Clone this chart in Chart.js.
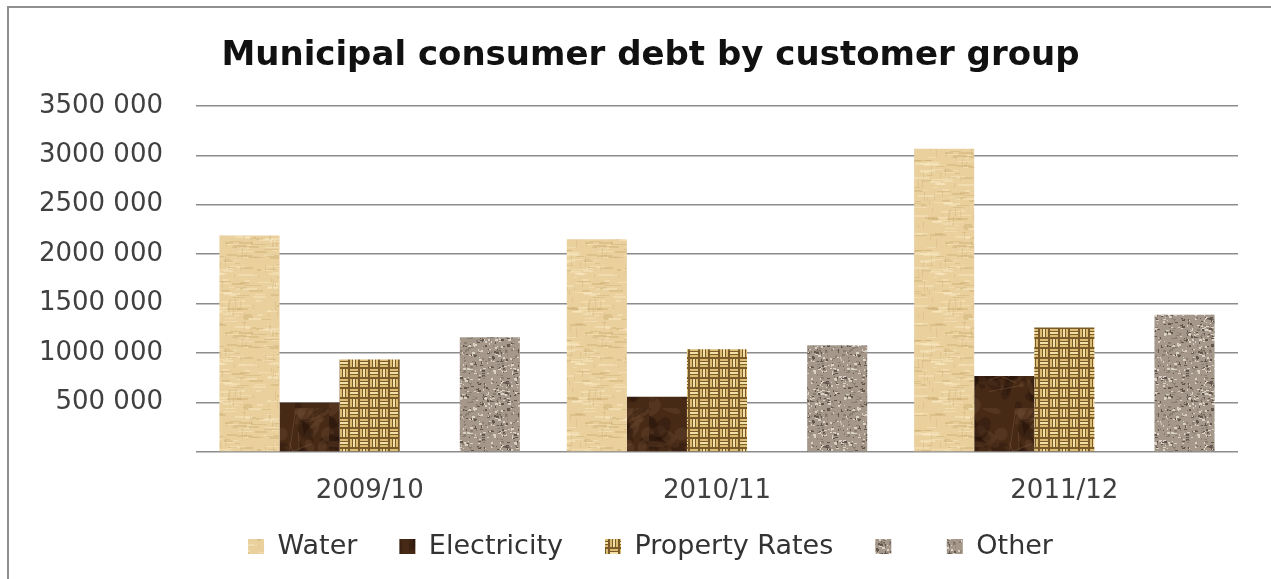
<!DOCTYPE html>
<html>
<head>
<meta charset="utf-8">
<script src="https://cdn.jsdelivr.net/npm/chart.js@4/dist/chart.umd.min.js"></script>
<style>
  html, body { margin: 0; padding: 0; background: #fff; }
  body { width: 1271px; height: 579px; overflow: hidden; position: relative; }
  #frame {
    position: absolute; left: 7px; top: 6px; width: 1264px; height: 573px;
    border-left: 2px solid #8f8f8f; border-top: 2px solid #8f8f8f;
  }
  #wrap { position: absolute; left: 0; top: 0; width: 1262px; height: 571px; }
</style>
</head>
<body>
<div id="frame"><div id="wrap"><canvas id="debtChart"></canvas></div></div>
<script>
// --- Data ---
const years = ["2009/10", "2010/11", "2011/12"];
const water = [2190000, 2150000, 3065000];
const electricity = [497000, 558000, 768000];
const propertyRates = [935000, 1038000, 1258000];
const unnamed = [null, null, null];          // blank legend entry in the original
const other = [1160000, 1080000, 1388000];
const yTicks = [0, 500000, 1000000, 1500000, 2000000, 2500000, 3000000, 3500000];

// --- Texture fills (Excel picture fills approximated) ---
function seeded(seed) {
    let s = seed >>> 0;
    return () => { s = (s * 1664525 + 1013904223) >>> 0; return s / 4294967296; };
}

function makePattern(w, h, paint) {
    const c = document.createElement('canvas');
    c.width = w; c.height = h;
    const g = c.getContext('2d');
    paint(g, w, h);
    return g.createPattern(c, 'repeat');
}

// papyrus
const papyrus = makePattern(90, 90, (g, w, h) => {
    const r = seeded(11);
    g.fillStyle = '#e9d09c';
    g.fillRect(0, 0, w, h);
    for (let i = 0; i < 160; i++) {
        g.fillStyle = r() < 0.5 ? 'rgba(196,158,96,0.3)' : 'rgba(250,236,200,0.45)';
        g.fillRect(Math.floor(r() * w), Math.floor(r() * h), 4 + Math.floor(r() * 14), 1 + Math.floor(r() * 2));
    }
    for (let i = 0; i < 50; i++) {
        g.fillStyle = 'rgba(190,150,95,0.2)';
        g.fillRect(Math.floor(r() * w), Math.floor(r() * h), 1, 3 + Math.floor(r() * 8));
    }
});

// dark marble
const marble = makePattern(80, 80, (g, w, h) => {
    const r = seeded(23);
    g.fillStyle = '#472a16';
    g.fillRect(0, 0, w, h);
    for (let i = 0; i < 60; i++) {
        const dark = r() < 0.5;
        g.fillStyle = dark ? 'rgba(35,18,8,0.35)' : 'rgba(115,80,52,0.3)';
        g.beginPath();
        g.ellipse(r() * w, r() * h, 3 + r() * 10, 2 + r() * 6, r() * Math.PI, 0, Math.PI * 2);
        g.fill();
    }
    g.strokeStyle = 'rgba(140,105,75,0.35)';
    g.lineWidth = 1;
    for (let i = 0; i < 6; i++) {
        g.beginPath();
        g.moveTo(r() * w, r() * h);
        g.lineTo(r() * w, r() * h);
        g.stroke();
    }
});

// basket weave
const weave = makePattern(20, 20, (g, w, h) => {
    g.fillStyle = '#7a5a28';
    g.fillRect(0, 0, w, h);
    const cells = [[0, 0, 'h'], [10, 0, 'v'], [0, 10, 'v'], [10, 10, 'h']];
    cells.forEach(([x, y, dir]) => {
        for (let k = 0; k < 3; k++) {
            g.fillStyle = k === 1 ? '#f3e0a6' : '#dcbd74';
            if (dir === 'h') g.fillRect(x + 1, y + k * 3 + 1, 8, 2);
            else g.fillRect(x + k * 3 + 1, y + 1, 2, 8);
        }
    });
});

// granite
const granite = makePattern(64, 64, (g, w, h) => {
    const r = seeded(37);
    g.fillStyle = '#a5988b';
    g.fillRect(0, 0, w, h);
    for (let i = 0; i < 420; i++) {
        const t = r();
        g.fillStyle = t < 0.35 ? '#62574e' : (t < 0.7 ? '#d9d0c6' : '#8a7e72');
        g.fillRect(Math.floor(r() * w), Math.floor(r() * h), 1 + Math.floor(r() * 3), 1 + Math.floor(r() * 2));
    }
});

const fmt = v => v === 0 ? '' : (v / 1000) + ' 000';

// labels may spill outside their (narrowed) axis boxes
const noLabelClip = s => { s._computeLabelArea = () => null; };

const ctx = document.getElementById('debtChart').getContext('2d');
new Chart(ctx, {
    type: 'bar',
    data: {
        labels: years,
        datasets: [
            { label: 'Water', data: water, backgroundColor: papyrus },
            { label: 'Electricity', data: electricity, backgroundColor: marble },
            { label: 'Property Rates', data: propertyRates, backgroundColor: weave },
            { label: '', data: unnamed, backgroundColor: granite },
            { label: 'Other', data: other, backgroundColor: granite }
        ]
    },
    options: {
        responsive: true,
        maintainAspectRatio: false,
        animation: false,
        layout: { padding: { left: 54, right: 33, top: 0, bottom: 9 } },
        datasets: { bar: { barPercentage: 1.0, categoryPercentage: 0.865 } },
        scales: {
            y: {
                min: 0,
                max: 3500000,
                afterBuildTicks: s => { s.ticks = yTicks.map(v => ({ value: v })); },
                afterFit: s => { s.width = 133; noLabelClip(s); },
                ticks: {
                    callback: v => fmt(v),
                    color: '#404040',
                    padding: 33,
                    font: { family: 'DejaVu Sans', size: 26 }
                },
                grid: { color: '#8c8c8c', lineWidth: 1.5, drawTicks: false },
                border: { display: false }
            },
            x: {
                afterFit: s => { s.height = 39; noLabelClip(s); },
                ticks: {
                    color: '#404040',
                    padding: 24,
                    font: { family: 'DejaVu Sans', size: 26 }
                },
                grid: { display: false, drawTicks: false },
                border: { display: false }
            }
        },
        plugins: {
            title: {
                display: true,
                text: 'Municipal consumer debt by customer group',
                color: '#111',
                font: { family: 'DejaVu Sans', size: 34, weight: 'bold' },
                padding: { top: 28, bottom: 29 }
            },
            legend: {
                position: 'bottom',
                labels: {
                    color: '#333',
                    boxWidth: 16,
                    boxHeight: 15,
                    padding: 42,
                    font: { family: 'DejaVu Sans', size: 27 }
                }
            },
            tooltip: { enabled: false }
        }
    }
});
</script>
</body>
</html>
